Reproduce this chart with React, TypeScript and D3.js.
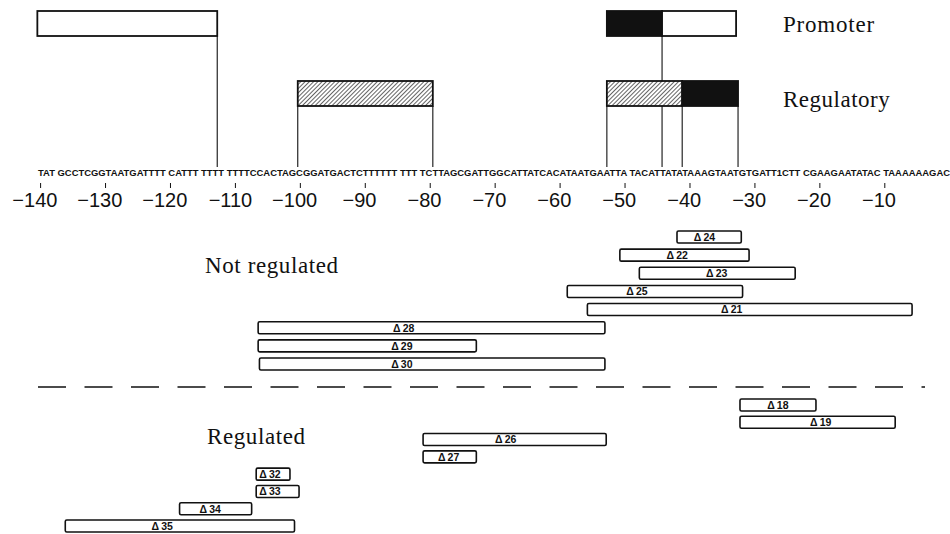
import React from 'react'
import * as d3 from 'd3'

// sequence coordinate axis
const axisTicks = [-140, -130, -120, -110, -100, -90, -80, -70, -60, -50, -40, -30, -20, -10]
const sequence =
  'TAT GCCTCGGTAATGATTTT CATTT TTTT TTTTCCACTAGCGGATGACTCTTTTTT TTT TCTTAGCGATTGGCATTATCACATAATGAATTA TACATTATATAAAGTAATGTGATT1CTT CGAAGAATATAC TAAAAAAGAC'

// mapped regions (start, end in bp) and what kind of region each part is
const upstreamParts = [{ start: -140.5, end: -112.8, kind: 'open' }]
const promoterParts = [
  { start: -52.8, end: -44.3, kind: 'solid' },
  { start: -44.3, end: -32.9, kind: 'open' },
]
const regulatoryParts = [
  { start: -100.4, end: -79.6, kind: 'hatched' },
  { start: -52.8, end: -41.2, kind: 'hatched' },
  { start: -41.2, end: -32.6, kind: 'solid' },
]
const boundaryMarks = [-112.8, -100.4, -79.6, -52.8, -44.3, -41.2, -32.6]
const promoterLink = -44.3

// deletions: start, end, and where the deletion end point (Δ) sits
const notRegulated = [
  { id: '24', start: -42.0, end: -32.1, mark: -38.8 },
  { id: '22', start: -50.8, end: -30.9, mark: -43.0 },
  { id: '23', start: -47.8, end: -23.8, mark: -36.9 },
  { id: '25', start: -58.9, end: -31.9, mark: -49.2 },
  { id: '21', start: -55.8, end: -5.8, mark: -34.6 },
  { id: '28', start: -106.5, end: -53.1, mark: -85.1 },
  { id: '29', start: -106.5, end: -72.9, mark: -85.4 },
  { id: '30', start: -106.3, end: -53.1, mark: -85.4 },
]
const regulated = [
  { id: '18', start: -32.3, end: -20.6, mark: -27.5 },
  { id: '19', start: -32.3, end: -8.4, mark: -20.9 },
  { id: '26', start: -81.1, end: -52.9, mark: -69.4 },
  { id: '27', start: -81.1, end: -72.9, mark: -78.2 },
  { id: '32', start: -106.8, end: -101.6, mark: -105.7 },
  { id: '33', start: -106.8, end: -100.2, mark: -105.7 },
  { id: '34', start: -118.6, end: -107.5, mark: -114.9 },
  { id: '35', start: -136.2, end: -100.9, mark: -122.3 },
]

const W = 950
const H = 534
const serif = "'Liberation Serif', 'DejaVu Serif', serif"
const sans = "'Liberation Sans', Arial, sans-serif"
const narrow = "'Liberation Sans Narrow', 'Liberation Sans', Arial, sans-serif"

function fillOf(kind: string) {
  if (kind === 'solid') return '#111'
  if (kind === 'hatched') return 'url(#hatch)'
  return '#fff'
}

function DeletionGroup({ rows, y, x }: { rows: any[]; y: d3.ScalePoint<string>; x: d3.ScaleLinear<number, number> }) {
  const h = 12
  return (
    <g>
      {rows.map((d) => {
        const top = y(d.id) as number
        return (
          <g key={d.id}>
            <rect
              x={x(d.start)}
              y={top}
              width={x(d.end) - x(d.start)}
              height={h}
              rx={1.5}
              fill="#fff"
              stroke="#111"
              strokeWidth={1.6}
            />
            <text
              x={x(d.mark) - 4}
              y={top + h - 2.2}
              fontFamily={narrow}
              fontWeight="bold"
              fontSize={10.5}
              fill="#111"
            >
              {'\u0394\u2009' + d.id}
            </text>
          </g>
        )
      })}
    </g>
  )
}

export default function App() {
  const x = d3.scaleLinear().domain([-140, -10]).range([40.6, 884.8])

  const yNot = d3
    .scalePoint<string>()
    .domain(notRegulated.map((d) => d.id))
    .range([231, 358])
  const yReg = d3
    .scalePoint<string>()
    .domain(regulated.map((d) => d.id))
    .range([399, 520])

  const promTop = 11
  const regTop = 81
  const boxH = 25
  const seqY = 176
  const lineBottom = 167

  const parts = (list: any[], top: number, key: string) =>
    list.map((p, i) => (
      <rect
        key={key + i}
        x={x(p.start)}
        y={top}
        width={x(p.end) - x(p.start)}
        height={boxH}
        fill={fillOf(p.kind)}
        stroke="#111"
        strokeWidth={1.8}
      />
    ))

  return (
    <svg width={W} height={H} style={{ position: 'absolute', left: 0, top: 0, background: '#fff' }}>
      <defs>
        <pattern id="hatch" patternUnits="userSpaceOnUse" width={3} height={3} patternTransform="rotate(45)">
          <rect width={3} height={3} fill="#fff" />
          <line x1={0} y1={0} x2={0} y2={3} stroke="#222" strokeWidth={1.4} />
        </pattern>
      </defs>

      {/* connector lines down to the sequence */}
      {boundaryMarks.map((b, i) => {
        const top = b === -112.8 ? promTop + boxH : regTop + boxH
        return <line key={'b' + i} x1={x(b)} x2={x(b)} y1={top} y2={lineBottom} stroke="#111" strokeWidth={1.1} />
      })}
      <line x1={x(promoterLink)} x2={x(promoterLink)} y1={promTop + boxH} y2={regTop} stroke="#111" strokeWidth={1.1} />

      {parts(upstreamParts, promTop, 'u')}
      {parts(promoterParts, promTop, 'p')}
      {parts(regulatoryParts, regTop, 'r')}

      <text x={783} y={32} fontFamily={serif} fontSize={23} letterSpacing={0.8} fill="#111">
        Promoter
      </text>
      <text x={783} y={107} fontFamily={serif} fontSize={23} letterSpacing={0.5} fill="#111">
        Regulatory
      </text>

      {/* nucleotide sequence */}
      <text
        x={38}
        y={seqY}
        textLength={912}
        lengthAdjust="spacingAndGlyphs"
        fontFamily={narrow}
        fontWeight="bold"
        fontSize={8.5}
        fill="#111"
      >
        {sequence}
      </text>

      {/* axis */}
      {axisTicks.map((t) => {
        const digits = String(Math.abs(t))
        return (
          <g key={'t' + t}>
            <line x1={x(t)} x2={x(t)} y1={183} y2={188} stroke="#111" strokeWidth={1} />
            <text
              x={x(t) + digits.length * 5.6}
              y={207}
              textAnchor="end"
              fontFamily={sans}
              fontSize={20}
              fill="#111"
            >
              {'\u2212' + digits}
            </text>
          </g>
        )
      })}

      <text x={205} y={273} fontFamily={serif} fontSize={23} letterSpacing={0.6} fill="#111">
        Not regulated
      </text>
      <DeletionGroup rows={notRegulated} y={yNot} x={x} />

      <line x1={38} x2={925} y1={387} y2={387} stroke="#111" strokeWidth={1.3} strokeDasharray="28 18.5" />

      <text x={207} y={444} fontFamily={serif} fontSize={23} letterSpacing={0.6} fill="#111">
        Regulated
      </text>
      <DeletionGroup rows={regulated} y={yReg} x={x} />
    </svg>
  )
}
